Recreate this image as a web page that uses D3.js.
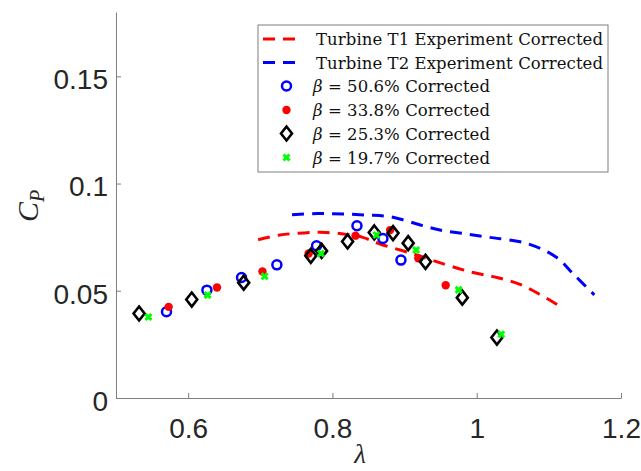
<!DOCTYPE html>
<html>
<head>
<meta charset="utf-8">
<script src="https://cdn.jsdelivr.net/npm/d3@7"></script>
<style>
  body { margin: 0; background: #fff; }
  .axis path, .axis line { stroke: #7f7f7f; }
  .axis text { font-family: "Liberation Sans", Arial, sans-serif; font-size: 28px; fill: #262626; }
</style>
</head>
<body>
<svg id="chart" width="641" height="471"></svg>
<script>
// experiment curves
const t1Lambda = [0.697, 0.727, 0.761, 0.791, 0.819, 0.842, 0.866, 0.912, 0.958, 0.995, 1.028, 1.059, 1.087, 1.115];
const t1Cp     = [0.0738, 0.0760, 0.0770, 0.0772, 0.0763, 0.0749, 0.0718, 0.0672, 0.0621, 0.0585, 0.0562, 0.0531, 0.0484, 0.0428];
const t2Lambda = [0.744, 0.780, 0.815, 0.848, 0.880, 0.926, 0.949, 0.981, 1.018, 1.069, 1.111, 1.134, 1.163];
const t2Cp     = [0.0855, 0.0860, 0.0858, 0.0853, 0.0845, 0.0803, 0.0783, 0.0767, 0.0749, 0.0721, 0.0655, 0.0578, 0.0481];

// corrected points per blockage ratio
const b506Lambda = [0.570, 0.626, 0.674, 0.723, 0.778, 0.834, 0.870, 0.895];
const b506Cp     = [0.0402, 0.0503, 0.0562, 0.0621, 0.0710, 0.0803, 0.0744, 0.0643];
const b338Lambda = [0.573, 0.640, 0.703, 0.767, 0.832, 0.880, 0.919, 0.957];
const b338Cp     = [0.0425, 0.0515, 0.0590, 0.0674, 0.0757, 0.0783, 0.0652, 0.0526];
const b253Lambda = [0.532, 0.605, 0.677, 0.770, 0.785, 0.821, 0.858, 0.884, 0.905, 0.929, 0.980, 1.028];
const b253Cp     = [0.0394, 0.0459, 0.0538, 0.0663, 0.0686, 0.0730, 0.0772, 0.0769, 0.0722, 0.0635, 0.0468, 0.0282];
const b197Lambda = [0.545, 0.627, 0.706, 0.784, 0.861, 0.916, 0.975, 1.034];
const b197Cp     = [0.0378, 0.0480, 0.0568, 0.0674, 0.0760, 0.0690, 0.0504, 0.0297];

const xTicks = [0.6, 0.8, 1, 1.2];
const yTicks = [0, 0.05, 0.1, 0.15];

const legendLabels = ['Turbine T1 Experiment Corrected', 'Turbine T2 Experiment Corrected',
  '50.6%', '33.8%', '25.3%', '19.7%'];

const zip = (xs, ys) => xs.map((x, i) => ({ x: x, y: ys[i] }));

const svg = d3.select('#chart');

let xScale = d3.scaleLinear().domain([0.5, 1.2]).range([116, 621]);
let yScale = d3.scaleLinear().domain([0, 0.18]).range([398, 12]);

// axes (ticks point inward like matlab)
svg.append('g')
  .attr('class', 'axis')
  .attr('transform', 'translate(0,398)')
  .call(d3.axisBottom(xScale).tickValues(xTicks).tickSize(-5).tickSizeOuter(0)
    .tickFormat(d3.format('')))
  .call(g => g.selectAll('text').attr('y', 40).attr('dy', 0));

svg.append('g')
  .attr('class', 'axis')
  .attr('transform', 'translate(116,0)')
  .call(d3.axisLeft(yScale).tickValues(yTicks).tickSize(-5).tickSizeOuter(0)
    .tickFormat(d3.format('')))
  .call(g => g.selectAll('text').attr('x', -8).attr('dy', '0.44em'));

// axis titles
svg.append('text')
  .attr('transform', 'translate(38,206) rotate(-90)')
  .attr('text-anchor', 'middle')
  .style('font-family', '"Liberation Serif", serif')
  .style('font-style', 'italic')
  .style('font-size', '30px')
  .style('fill', '#262626')
  .html('C<tspan font-size="20px" dy="6">P</tspan>');

svg.append('text')
  .attr('x', 360).attr('y', 463)
  .attr('text-anchor', 'middle')
  .style('font-family', '"Liberation Serif", serif')
  .style('font-style', 'italic')
  .style('font-size', '27px')
  .style('fill', '#262626')
  .text('λ');

// curves
let line = d3.line()
  .x(d => xScale(d.x))
  .y(d => yScale(d.y))
  .curve(d3.curveCatmullRom);

svg.append('path')
  .datum(zip(t1Lambda, t1Cp))
  .attr('d', line)
  .attr('fill', 'none')
  .attr('stroke', '#ff0000')
  .attr('stroke-width', 3)
  .attr('stroke-dasharray', '12,8');

svg.append('path')
  .datum(zip(t2Lambda, t2Cp))
  .attr('d', line)
  .attr('fill', 'none')
  .attr('stroke', '#0000ff')
  .attr('stroke-width', 3)
  .attr('stroke-dasharray', '12,8');

// markers
const diamond = 'M0,-7L5.5,0L0,7L-5.5,0Z';
const cross = 'M-3,-3L3,3M3,-3L-3,3';

function circles(data, g) {
  g.selectAll('circle').data(data).enter().append('circle')
    .attr('cx', d => xScale(d.x)).attr('cy', d => yScale(d.y))
    .attr('r', 4.5).attr('fill', 'none').attr('stroke', '#0000ff').attr('stroke-width', 2.5);
}
function dots(data, g) {
  g.selectAll('circle').data(data).enter().append('circle')
    .attr('cx', d => xScale(d.x)).attr('cy', d => yScale(d.y))
    .attr('r', 4.2).attr('fill', '#ff0000');
}
function diamonds(data, g) {
  g.selectAll('path').data(data).enter().append('path')
    .attr('transform', d => `translate(${xScale(d.x)},${yScale(d.y)})`)
    .attr('d', diamond).attr('fill', 'none').attr('stroke', '#000').attr('stroke-width', 2.6);
}
function crosses(data, g) {
  g.selectAll('path').data(data).enter().append('path')
    .attr('transform', d => `translate(${xScale(d.x)},${yScale(d.y)})`)
    .attr('d', cross).attr('fill', 'none').attr('stroke', '#00ff00').attr('stroke-width', 3);
}

circles(zip(b506Lambda, b506Cp), svg.append('g'));
dots(zip(b338Lambda, b338Cp), svg.append('g'));
diamonds(zip(b253Lambda, b253Cp), svg.append('g'));
crosses(zip(b197Lambda, b197Cp), svg.append('g'));

// legend
let lg = svg.append('g');
lg.append('rect')
  .attr('x', 258).attr('y', 25).attr('width', 350).attr('height', 147)
  .attr('fill', '#fff').attr('stroke', '#7f7f7f').attr('stroke-width', 1);

const rowY = [39, 62.5, 86, 110, 133.5, 157.5];
const legendColors = ['#ff0000', '#0000ff'];

legendColors.forEach((c, i) => {
  lg.append('line')
    .attr('x1', 263).attr('x2', 301).attr('y1', rowY[i]).attr('y2', rowY[i])
    .attr('stroke', c).attr('stroke-width', 3).attr('stroke-dasharray', '12,8');
});

circles([{ x: xScale.invert(286.5), y: yScale.invert(rowY[2]) }], lg.append('g'));
dots([{ x: xScale.invert(286.5), y: yScale.invert(rowY[3]) }], lg.append('g'));
diamonds([{ x: xScale.invert(286.5), y: yScale.invert(rowY[4]) }], lg.append('g'));
crosses([{ x: xScale.invert(286.5), y: yScale.invert(rowY[5]) }], lg.append('g'));

legendLabels.forEach((t, i) => {
  let txt = lg.append('text')
    .attr('x', i < 2 ? 316 : 313).attr('y', rowY[i] + 6)
    .attr('textLength', i < 2 ? 287 : 177)
    .attr('lengthAdjust', 'spacing')
    .style('font-family', '"DejaVu Serif", serif')
    .style('font-size', '16.5px')
    .style('fill', '#111');
  if (i < 2) {
    txt.text(t);
  } else {
    txt.append('tspan').style('font-style', 'italic').text('β');
    txt.append('tspan').text(' = ' + t + ' Corrected');
  }
});
</script>
</body>
</html>
